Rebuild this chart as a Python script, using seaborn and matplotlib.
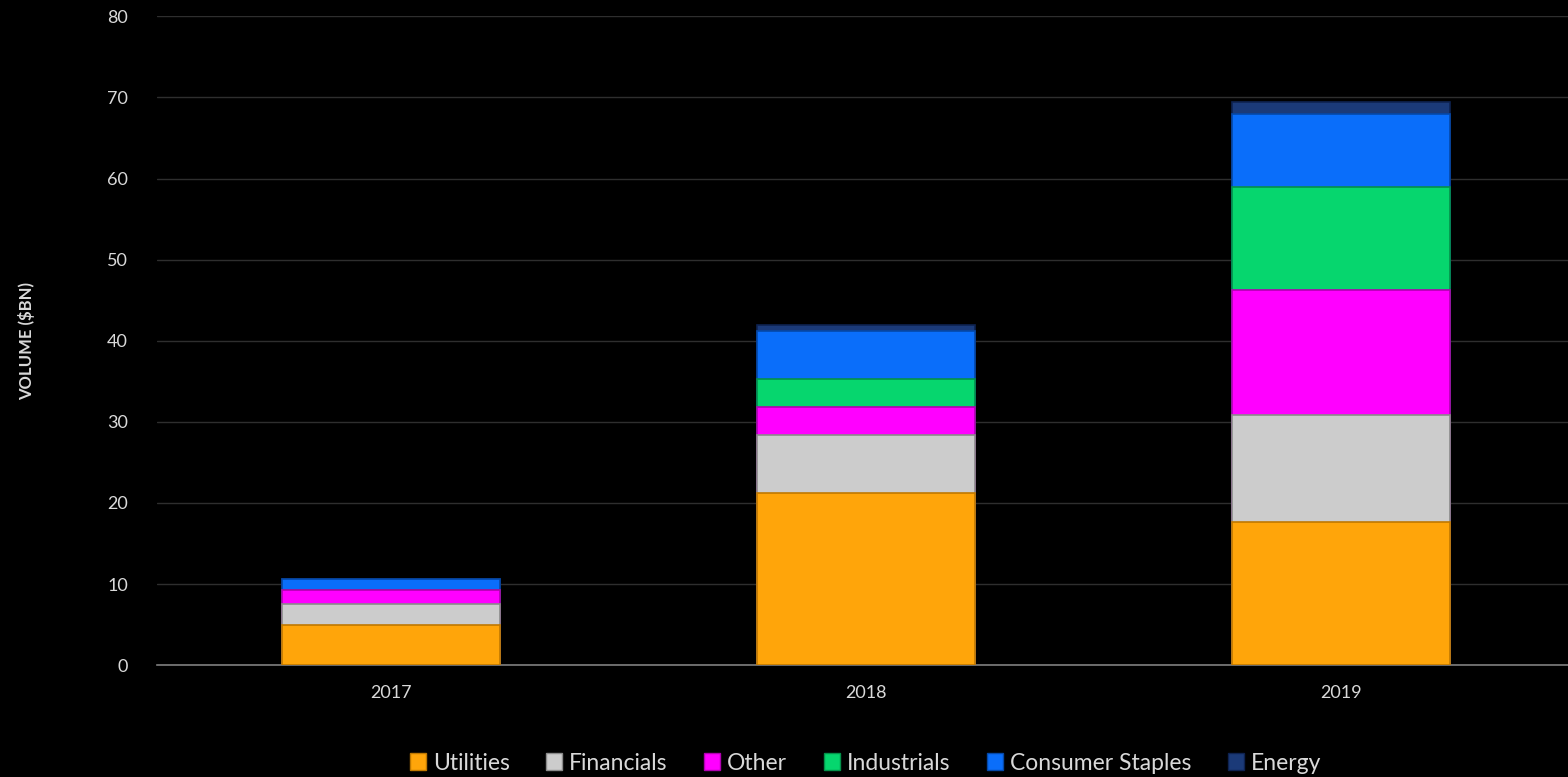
import numpy as np
import pandas as pd
import matplotlib
matplotlib.use("Agg")
import matplotlib.pyplot as plt
import seaborn as sns
from matplotlib.patches import Patch

years = ["2017", "2018", "2019"]
series_names = ["Utilities", "Financials", "Other", "Industrials", "Consumer Staples", "Energy"]
utilities = [5.0, 21.2, 17.6]
financials = [2.5, 7.2, 13.3]
other = [1.8, 3.4, 15.4]
industrials = [0.0, 3.5, 12.6]
consumer_staples = [1.3, 5.85, 9.1]
energy = [0.0, 0.8, 1.45]

colors = ["#FFA50A", "#CCCCCC", "#FF00FF", "#06D66E", "#0A6EFA", "#1B3A78"]
edges = ["#C07800", "#8A8A8A", "#B000B0", "#04904A", "#0548A8", "#0E2250"]

sns.set_theme(style="dark")
plt.rcParams['font.family'] = ['Lato', 'DejaVu Sans']

fig = plt.figure(figsize=(15.68, 7.77), dpi=100, facecolor="black")
ax = fig.add_axes([0.1001, 0.144, 0.8999, 0.835])
ax.set_facecolor("black")

values = [utilities, financials, other, industrials, consumer_staples, energy]
cum = np.cumsum(np.array(values), axis=0)

# draw from top of stack to bottom so lower segments overlay
for i in reversed(range(len(series_names))):
    df = pd.DataFrame({"year": years, "value": cum[i]})
    sns.barplot(data=df, x="year", y="value", color=colors[i], width=0.46,
                edgecolor=edges[i], linewidth=1.2, saturation=1, ax=ax, zorder=3)

ax.set_ylim(0, 80)
ax.set_xlim(-0.493, 2.478)
ax.set_yticks(range(0, 81, 10))
ax.yaxis.grid(True, color="#2E2E2E", linewidth=1)
ax.xaxis.grid(False)
ax.set_axisbelow(True)
for s in ["top", "right", "left"]:
    ax.spines[s].set_visible(False)
ax.spines["bottom"].set_color("#7F7F7F")
ax.spines["bottom"].set_linewidth(1.2)
ax.tick_params(axis="both", length=0, colors="#D9D9D9", labelsize=13)
ax.tick_params(axis="y", pad=21)
ax.tick_params(axis="x", pad=14)
for lab in ax.get_xticklabels() + ax.get_yticklabels():
    lab.set_color("#D9D9D9")
ax.set_xlabel("")
ax.set_ylabel("VOLUME ($BN)", color="#D9D9D9", fontsize=12, fontweight="bold", labelpad=52)

handles = [Patch(facecolor=colors[i], edgecolor=edges[i], label=series_names[i]) for i in range(len(series_names))]
leg = fig.legend(handles=handles, loc="center", bbox_to_anchor=(0.552, 0.018), ncol=6,
                 frameon=False, fontsize=16.5, handlelength=0.7, handleheight=0.7,
                 handletextpad=0.3, columnspacing=1.6)
for t in leg.get_texts():
    t.set_color("#D9D9D9")

fig.savefig("out.png", dpi=100, facecolor="black")
